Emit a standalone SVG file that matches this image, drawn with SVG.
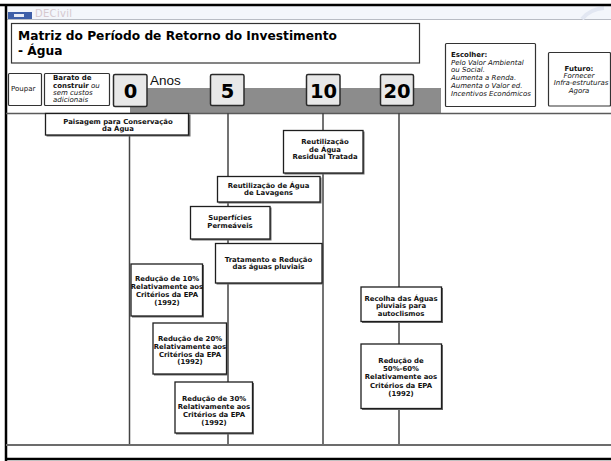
<svg xmlns="http://www.w3.org/2000/svg" width="611" height="461" viewBox="0 0 611 461">
  <defs>
    <style>
      .frame { stroke: #000; stroke-width: 2.5; fill: none; }
      .hdr { fill: #fff; stroke: #333; stroke-width: 1.2; }
      .num { fill: #e8e8e8; stroke: #2a2a2a; stroke-width: 1.5; }
      .numtxt { font-family: "DejaVu Sans", Verdana, sans-serif; font-weight: bold; font-size: 19.5px; fill: #000; text-anchor: middle; }
      .box { fill: #fff; stroke: #1e1e1e; stroke-width: 1.3; }
      .shadow { fill: #6a6a6a; }
      .lbl { font-family: "DejaVu Sans", Verdana, sans-serif; font-weight: bold; font-size: 6.9px; fill: #111; text-anchor: middle; }
      .small { font-family: "DejaVu Sans", Verdana, sans-serif; font-size: 7px; fill: #111; }
      .it { font-style: italic; }
      .b { font-weight: bold; }
      .tl { stroke: #444; stroke-width: 1.5; fill: none; }
    </style>
  </defs>

  <!-- page background -->
  <rect x="0" y="0" width="611" height="461" fill="#fff"/>

  <!-- logo strip -->
  <rect x="6" y="6" width="605" height="13" fill="#f3f6fb"/>
  <line x1="6" y1="19.5" x2="611" y2="19.5" stroke="#b8bcc4" stroke-width="1"/>
  <rect x="8" y="12" width="24" height="7" fill="#3e5fa8"/>
  <rect x="14" y="14" width="10" height="3" fill="#e8ecf6"/>
  <text x="35" y="17" font-family="'DejaVu Sans', sans-serif" font-size="10" fill="#d6c9cf" letter-spacing="0.3">DECivil</text>
  <path d="M582 19 Q590 9 604 8" stroke="#e2e7f2" stroke-width="4" fill="none"/>

  <!-- outer frame -->
  <line class="frame" x1="0" y1="5" x2="611" y2="5"/>
  <line class="frame" x1="6" y1="4" x2="6" y2="461"/>
  <line class="frame" x1="6" y1="459" x2="611" y2="459"/>

  <!-- title -->
  <g id="title">
    <rect class="hdr" x="11.5" y="23.5" width="408" height="39.5"/>
    <text x="18" y="40" font-family="'DejaVu Sans', Verdana, sans-serif" font-weight="bold" font-size="12.2" fill="#000" textLength="319" lengthAdjust="spacingAndGlyphs">Matriz do Período de Retorno do Investimento</text>
    <text x="18" y="55" font-family="'DejaVu Sans', Verdana, sans-serif" font-weight="bold" font-size="12.2" fill="#000">- Água</text>
  </g>

  <!-- timeline band -->
  <rect x="130" y="88" width="311" height="25" fill="#8c8c8c"/>
  <line x1="6" y1="113.5" x2="611" y2="113.5" stroke="#5a5a5a" stroke-width="1.5"/>
  <text x="150" y="85" font-family="'Liberation Sans', Arial, sans-serif" font-size="13.5" fill="#111">Anos</text>

  <g id="poupar">
    <rect class="hdr" x="8.5" y="73.5" width="33" height="32" rx="1"/>
    <text class="small" x="11" y="91" font-size="6">Poupar</text>
  </g>

  <g id="barato">
    <rect class="hdr" x="44.5" y="73.5" width="65" height="32" rx="1"/>
    <text class="small b" x="53" y="79.5">Barato de</text>
    <text class="small" x="53" y="87.5"><tspan class="b">construir</tspan><tspan class="it"> ou</tspan></text>
    <text class="small it" x="53" y="95">sem custos</text>
    <text class="small it" x="53" y="102">adicionais</text>
  </g>

  <g id="escolher">
    <rect class="hdr" x="445.5" y="43.5" width="90" height="63" rx="1"/>
    <text class="small b" x="451" y="57">Escolher:</text>
    <text class="small it" x="451" y="64.5">Pelo Valor Ambiental</text>
    <text class="small it" x="451" y="72">ou Social.</text>
    <text class="small it" x="451" y="79.5">Aumenta a Renda.</text>
    <text class="small it" x="451" y="87.5">Aumenta o Valor ed.</text>
    <text class="small it" x="451" y="95.5">Incentivos Económicos</text>
  </g>

  <g id="futuro">
    <rect class="hdr" x="548.5" y="52.5" width="62" height="53.5" rx="1"/>
    <text class="small b" x="579" y="70.5" text-anchor="middle">Futuro:</text>
    <text class="small it" x="579" y="77.5" text-anchor="middle">Fornecer</text>
    <text class="small it" x="581" y="85" text-anchor="middle">Infra-estruturas</text>
    <text class="small it" x="579" y="92.5" text-anchor="middle">Agora</text>
  </g>

  <!-- year markers -->
  <g id="year-0">
    <rect class="num" x="113.5" y="74.5" width="33.5" height="32" rx="1.5"/>
    <text class="numtxt" x="130.5" y="97.5">0</text>
  </g>
  <g id="year-5">
    <rect class="num" x="210.5" y="74.5" width="33.5" height="31" rx="1.5"/>
    <text class="numtxt" x="227.5" y="97.5">5</text>
  </g>
  <g id="year-10">
    <rect class="num" x="306.5" y="74.5" width="33.5" height="31" rx="1.5"/>
    <text class="numtxt" x="323.5" y="97.5">10</text>
  </g>
  <g id="year-20">
    <rect class="num" x="380.5" y="74.5" width="33" height="31" rx="1.5"/>
    <text class="numtxt" x="397" y="97.5">20</text>
  </g>

  <!-- timeline connectors -->
  <g id="connectors">
    <line class="tl" x1="129.5" y1="113" x2="129.5" y2="444"/>
    <line class="tl" x1="228" y1="113" x2="228" y2="444"/>
    <line class="tl" x1="323" y1="113" x2="323" y2="444"/>
    <line class="tl" x1="399" y1="113" x2="399" y2="444"/>
  </g>

  <!-- bottom rule -->
  <line x1="6" y1="445" x2="611" y2="445" stroke="#6c6c6c" stroke-width="2.2"/>

  <!-- measure nodes -->
  <g id="paisagem">
    <rect class="shadow" x="46.5" y="114.5" width="144" height="22"/>
    <rect class="box" x="45.5" y="113.5" width="143" height="21.5"/>
    <text class="lbl" x="118" y="123.5">Paisagem para Conservação</text>
    <text class="lbl" x="118" y="131">da Água</text>
  </g>

  <g id="residual">
    <rect class="shadow" x="284.5" y="131.5" width="80" height="43"/>
    <rect class="box" x="283.5" y="130.5" width="79.5" height="42.5"/>
    <text class="lbl" x="325" y="144">Reutilização</text>
    <text class="lbl" x="325" y="151.5">de Água</text>
    <text class="lbl" x="325" y="159">Residual Tratada</text>
  </g>

  <g id="lavagens">
    <rect class="shadow" x="218.5" y="177.5" width="103" height="26"/>
    <rect class="box" x="217.5" y="176.5" width="102.5" height="25.5"/>
    <text class="lbl" x="268.5" y="187.5">Reutilização de Água</text>
    <text class="lbl" x="268.5" y="195">de Lavagens</text>
  </g>

  <g id="permeaveis">
    <rect class="shadow" x="191.5" y="207.5" width="80" height="33"/>
    <rect class="box" x="190.5" y="206.5" width="79.5" height="32.5"/>
    <text class="lbl" x="230" y="220">Superfícies</text>
    <text class="lbl" x="230" y="228">Permeáveis</text>
  </g>

  <g id="pluviais">
    <rect class="shadow" x="216.5" y="244.5" width="107" height="40"/>
    <rect class="box" x="215.5" y="243.5" width="106.5" height="39.5"/>
    <text class="lbl" x="268.5" y="261.5">Tratamento e Redução</text>
    <text class="lbl" x="268.5" y="269">das águas pluviais</text>
  </g>

  <g id="reducao-10">
    <rect class="shadow" x="132" y="265" width="72" height="52.5"/>
    <rect class="box" x="131" y="264" width="71.5" height="52"/>
    <text class="lbl" x="167" y="281">Redução de 10%</text>
    <text class="lbl" x="167" y="288.5">Relativamente aos</text>
    <text class="lbl" x="167" y="296.5">Critérios da EPA</text>
    <text class="lbl" x="167" y="304.5">(1992)</text>
  </g>

  <g id="reducao-20">
    <rect class="shadow" x="154" y="324" width="74" height="51.5"/>
    <rect class="box" x="153" y="323" width="73.5" height="51"/>
    <text class="lbl" x="190" y="341">Redução de 20%</text>
    <text class="lbl" x="190" y="348.5">Relativamente aos</text>
    <text class="lbl" x="190" y="356.5">Critérios da EPA</text>
    <text class="lbl" x="190" y="364">(1992)</text>
  </g>

  <g id="reducao-30">
    <rect class="shadow" x="176" y="383" width="78" height="51.5"/>
    <rect class="box" x="175" y="382" width="77.5" height="51"/>
    <text class="lbl" x="214" y="401">Redução de 30%</text>
    <text class="lbl" x="214" y="408.5">Relativamente aos</text>
    <text class="lbl" x="214" y="416.5">Critérios da EPA</text>
    <text class="lbl" x="214" y="425">(1992)</text>
  </g>

  <g id="autoclismos">
    <rect class="shadow" x="362" y="288" width="81" height="35"/>
    <rect class="box" x="361" y="287" width="80.5" height="34.5"/>
    <text class="lbl" x="401" y="301">Recolha das Águas</text>
    <text class="lbl" x="401" y="308">pluviais para</text>
    <text class="lbl" x="401" y="315.5">autoclismos</text>
  </g>

  <g id="reducao-50-60">
    <rect class="shadow" x="362" y="345" width="81" height="65"/>
    <rect class="box" x="361" y="344" width="80.5" height="64.5"/>
    <text class="lbl" x="401" y="362.5">Redução de</text>
    <text class="lbl" x="401" y="371">50%-60%</text>
    <text class="lbl" x="401" y="379">Relativamente aos</text>
    <text class="lbl" x="401" y="387.5">Critérios da EPA</text>
    <text class="lbl" x="401" y="395.5">(1992)</text>
  </g>
</svg>
